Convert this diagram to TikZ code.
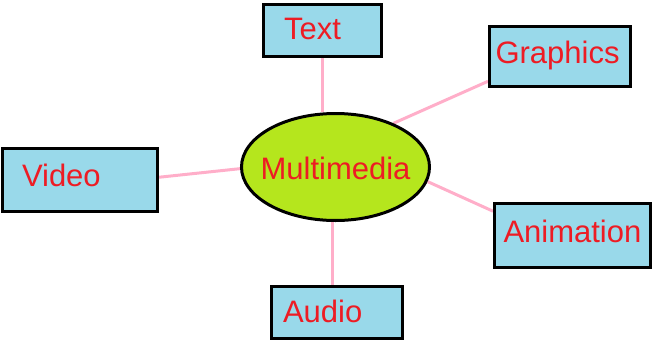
\documentclass[tikz,border=0pt]{standalone}
\usepackage{fontspec}
\setmainfont{Liberation Sans}
\usepackage{xcolor}
\usetikzlibrary{shapes.geometric,backgrounds}
\definecolor{topicblue}{HTML}{99D9EA}
\definecolor{hublime}{HTML}{B5E61D}
\definecolor{labelred}{HTML}{ED1C24}
\definecolor{linkpink}{HTML}{FFAEC9}
\newcommand{\labelfont}{\fontsize{31}{37}\selectfont}

\begin{document}
\begin{tikzpicture}[x=1pt,y=-1pt,
  topic/.style={rectangle,draw,line width=3pt,fill=topicblue,text=labelred,font=\labelfont,align=left,inner ysep=0pt,text height=22pt,text depth=6pt},
  hub/.style={ellipse,draw,line width=3pt,fill=hublime,inner sep=0pt},
  link/.style={draw=linkpink,line width=3pt}]
\useasboundingbox (0,0) rectangle (656,343);
\node[hub,minimum width=188pt,minimum height=107pt,
  label={[text=labelred,font=\labelfont,yshift=-1pt]center:Multimedia}] (mm) at (335.5,167) {};
\node[topic,text width=77pt,inner xsep=20.5pt,minimum height=52pt,text depth=4pt] (txt) at (322.5,30.5) {Text};
\node[topic,text width=129pt,inner xsep=6pt,minimum height=60pt,text depth=8pt] (gfx) at (560,56.5) {Graphics};
\node[topic,text width=116pt,inner xsep=19.5pt,minimum height=63pt,text depth=10pt] (vid) at (80,180) {Video};
\node[topic,text width=138pt,inner xsep=9pt,minimum height=64pt,text depth=8pt] (ani) at (572.5,235.5) {Animation};
\node[topic,text width=108pt,inner xsep=11.5pt,minimum height=52pt,text depth=3pt] (aud) at (337,312.5) {Audio};
\begin{scope}[on background layer]
\draw[link] (txt.south) -- (txt.south |- mm.north);
\draw[link] (gfx.199) -- (mm.37);
\draw[link] (vid.2) -- (mm.181);
\draw[link] (ani.163) -- (mm.-9);
\draw[link] (aud.99) -- (aud.99 |- mm.south);
\end{scope}
\end{tikzpicture}
\end{document}
